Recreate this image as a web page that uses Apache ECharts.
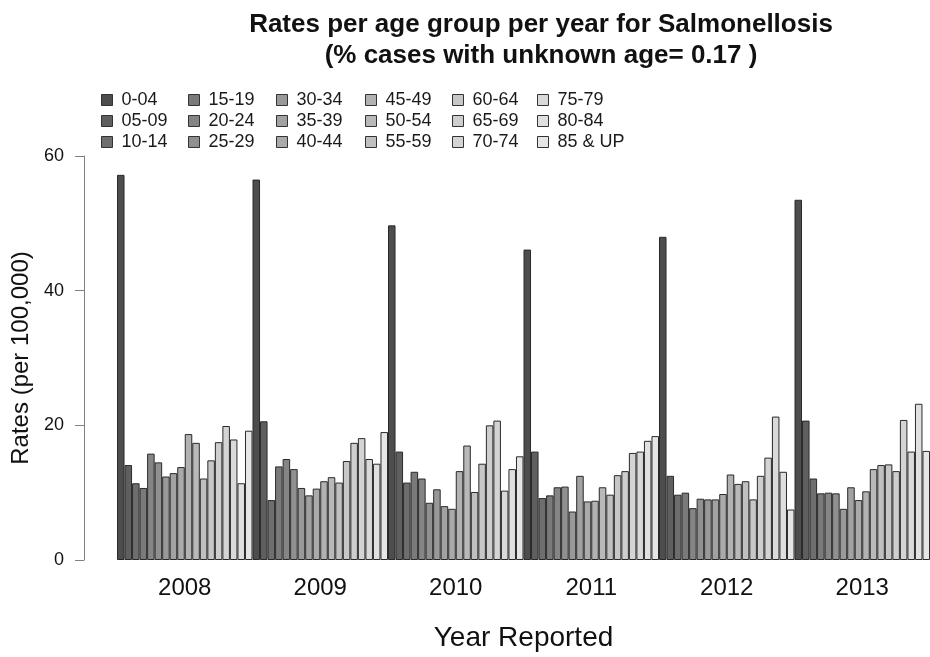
<!DOCTYPE html>
<html>
<head>
<meta charset="utf-8">
<script src="https://cdn.jsdelivr.net/npm/echarts@6/dist/echarts.min.js"></script>
<style>
html,body{margin:0;padding:0;background:#fff;}
#chart{width:930px;height:657px;}
</style>
</head>
<body>
<div id="chart"></div>
<script>
var years = ['2008', '2009', '2010', '2011', '2012', '2013'];
var ageGroups = ['0-04', '05-09', '10-14', '15-19', '20-24', '25-29', '30-34', '35-39', '40-44',
                 '45-49', '50-54', '55-59', '60-64', '65-69', '70-74', '75-79', '80-84', '85 & UP'];
// rates per 100,000 for each age group, one array per year
var rates2008 = [57.2, 14.1, 11.4, 10.7, 15.8, 14.5, 12.4, 12.9, 13.8, 18.7, 17.4, 12.1, 14.8, 17.5, 19.9, 17.9, 11.4, 19.2];
var rates2009 = [56.5, 20.6, 8.9, 13.9, 15.0, 13.5, 10.7, 9.6, 10.6, 11.7, 12.3, 11.5, 14.7, 17.4, 18.1, 15.0, 14.3, 19.0];
var rates2010 = [49.7, 16.1, 11.5, 13.1, 12.1, 8.5, 10.5, 8.0, 7.6, 13.2, 17.0, 10.1, 14.3, 20.0, 20.7, 10.3, 13.5, 15.4];
var rates2011 = [46.1, 16.1, 9.2, 9.6, 10.8, 10.9, 7.2, 12.5, 8.7, 8.8, 10.8, 9.7, 12.6, 13.2, 15.9, 16.1, 17.7, 18.4];
var rates2012 = [48.0, 12.5, 9.7, 10.0, 7.7, 9.1, 9.0, 9.0, 9.8, 12.7, 11.3, 11.7, 9.0, 12.5, 15.2, 21.3, 13.1, 7.5];
var rates2013 = [53.5, 20.7, 12.1, 9.9, 10.0, 9.9, 7.6, 10.8, 8.9, 10.2, 13.5, 14.1, 14.2, 13.2, 20.8, 16.1, 23.2, 16.2];
var yTicks = [0, 20, 40, 60];

var byYear = [rates2008, rates2009, rates2010, rates2011, rates2012, rates2013];

// R gray.colors(18): grey levels from 0.3 to 0.9 with gamma 2.2
function grayLevel(i, n) {
  var a = Math.pow(0.3, 2.2), b = Math.pow(0.9, 2.2);
  var v = Math.pow(a + (b - a) * i / (n - 1), 1 / 2.2);
  var c = Math.round(v * 255);
  return 'rgb(' + c + ',' + c + ',' + c + ')';
}

var FONT = 'Liberation Sans, Arial, sans-serif';
var series = ageGroups.map(function (g, i) {
  return {
    name: g,
    type: 'bar',
    data: byYear.map(function (arr) { return arr[i]; }),
    barGap: '0%',
    barCategoryGap: '0%',
    itemStyle: { color: grayLevel(i, ageGroups.length), borderColor: '#2a2a2a', borderWidth: 1 },
    emphasis: { disabled: true },
    animation: false
  };
});

var colX = [101, 188, 276, 365, 452, 537];
var legends = [];
for (var c = 0; c < 6; c++) {
  legends.push({
    data: ageGroups.slice(c * 3, c * 3 + 3),
    orient: 'vertical',
    left: colX[c],
    top: 90,
    icon: 'rect',
    itemWidth: 11,
    itemHeight: 11,
    itemGap: 1,
    padding: 0,
    selectedMode: false,
    itemStyle: { borderColor: '#333', borderWidth: 1 },
    textStyle: { fontFamily: FONT, fontSize: 18, color: '#1a1a1a', lineHeight: 20, padding: [0, 0, 0, 4] }
  });
}

var chart = echarts.init(document.getElementById('chart'), null, { renderer: 'canvas' });
chart.setOption({
  backgroundColor: '#fff',
  animation: false,
  title: {
    text: 'Rates per age group per year for Salmonellosis\n(% cases with unknown age= 0.17 )',
    left: 536,
    top: 4,
    textAlign: 'center',
    textStyle: { fontFamily: FONT, fontSize: 26, fontWeight: 'bold', color: '#111', lineHeight: 31 }
  },
  legend: legends,
  grid: { left: 117, top: 156, width: 816, bottom: 96 },
  xAxis: {
    type: 'category',
    data: years,
    axisLine: { show: false },
    axisTick: { show: false },
    axisLabel: { fontFamily: FONT, fontSize: 24, color: '#111', margin: 16 },
    name: 'Year Reported',
    nameLocation: 'middle',
    nameGap: 64,
    nameTextStyle: { fontFamily: FONT, fontSize: 28, color: '#111' }
  },
  yAxis: {
    type: 'value',
    min: 0,
    max: 60,
    interval: 20,
    offset: 33,
    splitLine: { show: false },
    axisLine: { show: true, lineStyle: { color: '#808080', width: 1 } },
    axisTick: { show: true, length: 9, lineStyle: { color: '#808080' } },
    axisLabel: { fontFamily: FONT, fontSize: 18, color: '#111', margin: 20,
      formatter: function (v) { return yTicks.indexOf(v) >= 0 ? String(v) : ''; } },
    name: 'Rates (per 100,000)',
    nameLocation: 'middle',
    nameGap: 50,
    nameTextStyle: { fontFamily: FONT, fontSize: 24, color: '#111' }
  },
  series: series
});
</script>
</body>
</html>
